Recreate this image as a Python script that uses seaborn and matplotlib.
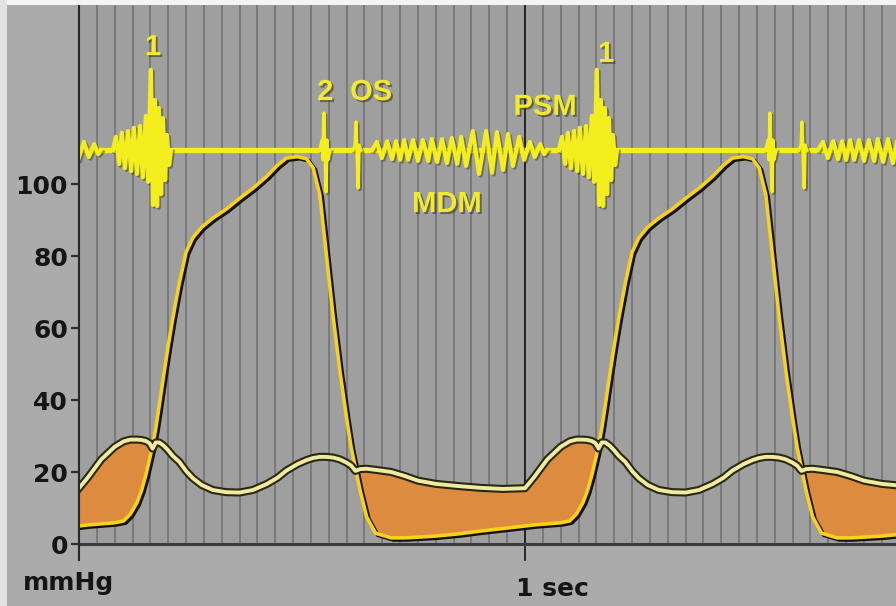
import numpy as np
import pandas as pd
import matplotlib
matplotlib.use("Agg")
import matplotlib.pyplot as plt
import matplotlib.patheffects as pe
from matplotlib.patches import Rectangle
import seaborn as sns

# ---------------- data ----------------
# one heart cycle, time within cycle (s)
cycle_tau = [0.00, 0.02, 0.05, 0.08, 0.10, 0.115, 0.13, 0.14, 0.15, 0.158, 0.165,
             0.172, 0.18, 0.19, 0.20, 0.21, 0.225, 0.24, 0.255, 0.275, 0.30, 0.33,
             0.36, 0.39, 0.42, 0.445, 0.465, 0.49, 0.51, 0.525, 0.54, 0.555, 0.57,
             0.585, 0.60, 0.61, 0.62, 0.63, 0.645, 0.665, 0.70, 0.73, 0.76, 0.80,
             0.85, 0.90, 0.95, 1.00]
# left ventricular pressure (mmHg)
lv_pressure = [5.0, 5.3, 5.6, 5.9, 6.4, 8.3, 11.5, 14.8, 19.2, 23.5, 27.2,
               32.0, 38.5, 47.0, 55.0, 62.5, 72.5, 81.0, 85.0, 88.0, 90.5, 93.0,
               96.0, 98.8, 102.0, 105.2, 107.2, 107.6, 107.0, 104.5, 97.0, 80.0, 63.0,
               48.0, 35.0, 27.0, 21.0, 15.0, 7.5, 3.0, 1.7, 1.7, 1.9, 2.2,
               2.8, 3.6, 4.3, 5.0]
# left atrial pressure (mmHg)
la_pressure = [15.5, 18.5, 23.5, 27.0, 28.5, 29.0, 29.0, 28.9, 28.6, 28.0, 26.5,
               28.2, 28.2, 27.3, 26.0, 24.5, 22.8, 20.3, 18.3, 16.4, 15.0, 14.4,
               14.3, 15.0, 16.6, 18.4, 20.4, 22.2, 23.3, 23.9, 24.2, 24.2, 24.0,
               23.5, 22.6, 21.8, 20.3, 20.8, 20.9, 20.6, 20.0, 18.9, 17.6, 16.7,
               16.1, 15.6, 15.3, 15.5]
cycles_shown = [0, 1]          # cycle start times (s)

# phonocardiogram (drawn on the 110 level)
pcg_baseline = 109.4
s1_t = [0.076, 0.083, 0.090, 0.096, 0.103, 0.110, 0.117, 0.123, 0.130, 0.137, 0.143,
        0.150, 0.155, 0.161, 0.166, 0.170, 0.175, 0.179, 0.184, 0.188, 0.193, 0.197,
        0.202, 0.206]
s1_v = [109.4, 113.1, 105.6, 114.2, 104.4, 114.7, 103.6, 115.6, 102.8, 116.1, 101.9,
        118.9, 100.6, 131.7, 94.2, 123.3, 93.9, 121.1, 97.2, 118.3, 101.1, 113.6,
        105.3, 109.4]
s2_t = [0.540, 0.545, 0.547, 0.549, 0.554, 0.556, 0.558, 0.563]
s2_v = [109.4, 112.2, 106.7, 119.7, 97.8, 112.2, 106.7, 109.4]
os_t = [0.614, 0.619, 0.621, 0.626, 0.628, 0.632]
os_v = [109.4, 110.8, 117.2, 98.9, 110.8, 109.4]
mdm_t = [0.657, 0.668, 0.679, 0.691, 0.702, 0.711, 0.720, 0.729, 0.738, 0.749, 0.760,
         0.771, 0.783, 0.791, 0.803, 0.814, 0.825, 0.836, 0.848, 0.857, 0.868, 0.883,
         0.897, 0.913, 0.926, 0.937, 0.951, 0.962, 0.973, 0.987, 0.998, 1.011, 1.022,
         1.034, 1.043, 1.049]
mdm_v = [109.4, 111.7, 107.2, 111.9, 106.9, 111.9, 106.7, 112.2, 106.7, 112.2, 106.4,
         112.2, 106.4, 112.5, 106.1, 112.5, 105.8, 112.8, 105.6, 113.1, 105.0, 114.7,
         102.8, 114.7, 103.1, 114.4, 103.9, 113.9, 105.0, 113.1, 106.7, 111.7, 107.5,
         111.1, 108.3, 109.4]
pcg_cycles = [-1, 0, 1]

y_ticks = [0, 20, 40, 60, 80, 100]
y_tick_labels = ["0", "20", "40", "60", "80", "100"]

# ---------------- figure ----------------
W, H = 896, 606
fig = plt.figure(figsize=(W / 100, H / 100), dpi=100)
fig.patch.set_facecolor("#ababab")
ax = fig.add_axes([79 / W, 62 / H, 817 / W, 539 / H])
ax.set_facecolor("#9f9f9f")
ax.set_xlim(0, 817 / 446)
ax.set_ylim(0, 539 / 3.6)

# white edges of the scanned picture
fig.patches.append(Rectangle((0, 1 - 5 / H), 1, 5 / H, transform=fig.transFigure,
                             facecolor="#f4f4f4", edgecolor="none", zorder=0))
fig.patches.append(Rectangle((0, 0), 7 / W, 1, transform=fig.transFigure,
                             facecolor="#e2e2e2", edgecolor="none", zorder=0))

# vertical paper grid (0.04 s)
ax.set_xticks(np.arange(0.04, 1.84, 0.04), minor=True)
ax.set_xticks([])
ax.grid(axis="x", which="minor", color="#707070", lw=1.1)
ax.set_axisbelow(True)
ax.tick_params(axis="x", which="both", length=0, labelbottom=False)

# pressure curves
frames = []
for c in cycles_shown:
    frames.append(pd.DataFrame({"t": np.array(cycle_tau) + c,
                                "lv": lv_pressure, "la": la_pressure}))
df = pd.concat(frames).drop_duplicates("t").reset_index(drop=True)

ax.fill_between(df["t"], df["lv"], df["la"], where=df["la"] > df["lv"],
                interpolate=True, color="#dd8b3f", lw=0, zorder=2)

sns.lineplot(data=df, x="t", y="lv", ax=ax, color="#f6d21a", lw=2.6, sort=False,
             estimator=None, zorder=3,
             path_effects=[pe.Stroke(linewidth=2.8, foreground="#15110a", offset=(1.6, -1.4)),
                           pe.Normal()])
sns.lineplot(data=df, x="t", y="la", ax=ax, color="#efeca2", lw=2.8, sort=False,
             estimator=None, zorder=4,
             path_effects=[pe.Stroke(linewidth=5.8, foreground="#2a2812"), pe.Normal()])

# phonocardiogram
ax.axhline(pcg_baseline, color="#f4ee1e", lw=3.8, zorder=5)
for c in pcg_cycles:
    for bt, bv, w in [(s1_t, s1_v, 3.1), (s2_t, s2_v, 2.4), (os_t, os_v, 2.4),
                      (mdm_t, mdm_v, 3.0)]:
        sns.lineplot(x=np.array(bt) + c, y=bv, ax=ax, color="#f4ee1e", lw=w,
                     sort=False, estimator=None, zorder=6,
                     path_effects=[pe.SimpleLineShadow(offset=(1.2, -1.2), shadow_color="#3a3a20", alpha=0.5),
                                   pe.Normal()])

# axes decorations
for s in ["top", "right", "left"]:
    ax.spines[s].set_visible(False)
ax.spines["bottom"].set_color("#3c3c3c")
ax.spines["bottom"].set_linewidth(2.2)
ax.axvline(0, ymin=-0.03, ymax=1, color="#262626", lw=1.5, clip_on=False, zorder=7)
ax.axvline(1.0, ymin=-0.03, ymax=1, color="#1e1e1e", lw=1.3, clip_on=False, zorder=1.5)

ax.set_yticks(y_ticks)
ax.set_yticklabels(y_tick_labels, fontsize=18, fontweight="bold", family="DejaVu Sans",
                   color="#151515")
ax.tick_params(axis="y", length=6, width=1.6, color="#333333", pad=2, left=True)
ax.set_xlabel("")
ax.set_ylabel("")

ax.text(-0.1256, -12.8, "mmHg", ha="left", va="baseline", fontsize=18,
        fontweight="bold", family="DejaVu Sans", color="#151515", clip_on=False)
ax.text(0.980, -14.5, "1 sec", ha="left", va="baseline", fontsize=18,
        fontweight="bold", family="DejaVu Sans", color="#151515", clip_on=False)

lab_fx = [pe.withSimplePatchShadow(offset=(1.4, -1.4), shadow_rgbFace="#3a3a2a", alpha=0.6)]
lab_kw = dict(ha="center", va="baseline", fontsize=21, fontweight="bold",
              family="Liberation Sans", color="#f2ea2c", zorder=8, path_effects=lab_fx)
ax.text(0.166, 135.8, "1", **lab_kw)
ax.text(0.552, 123.3, "2", **lab_kw)
ax.text(0.655, 123.3, "OS", **lab_kw)
ax.text(1.045, 119.2, "PSM", **lab_kw)
ax.text(0.825, 92.2, "MDM", **lab_kw)
ax.text(1.182, 133.9, "1", **lab_kw)

fig.savefig("out.png", dpi=100, facecolor=fig.get_facecolor())
